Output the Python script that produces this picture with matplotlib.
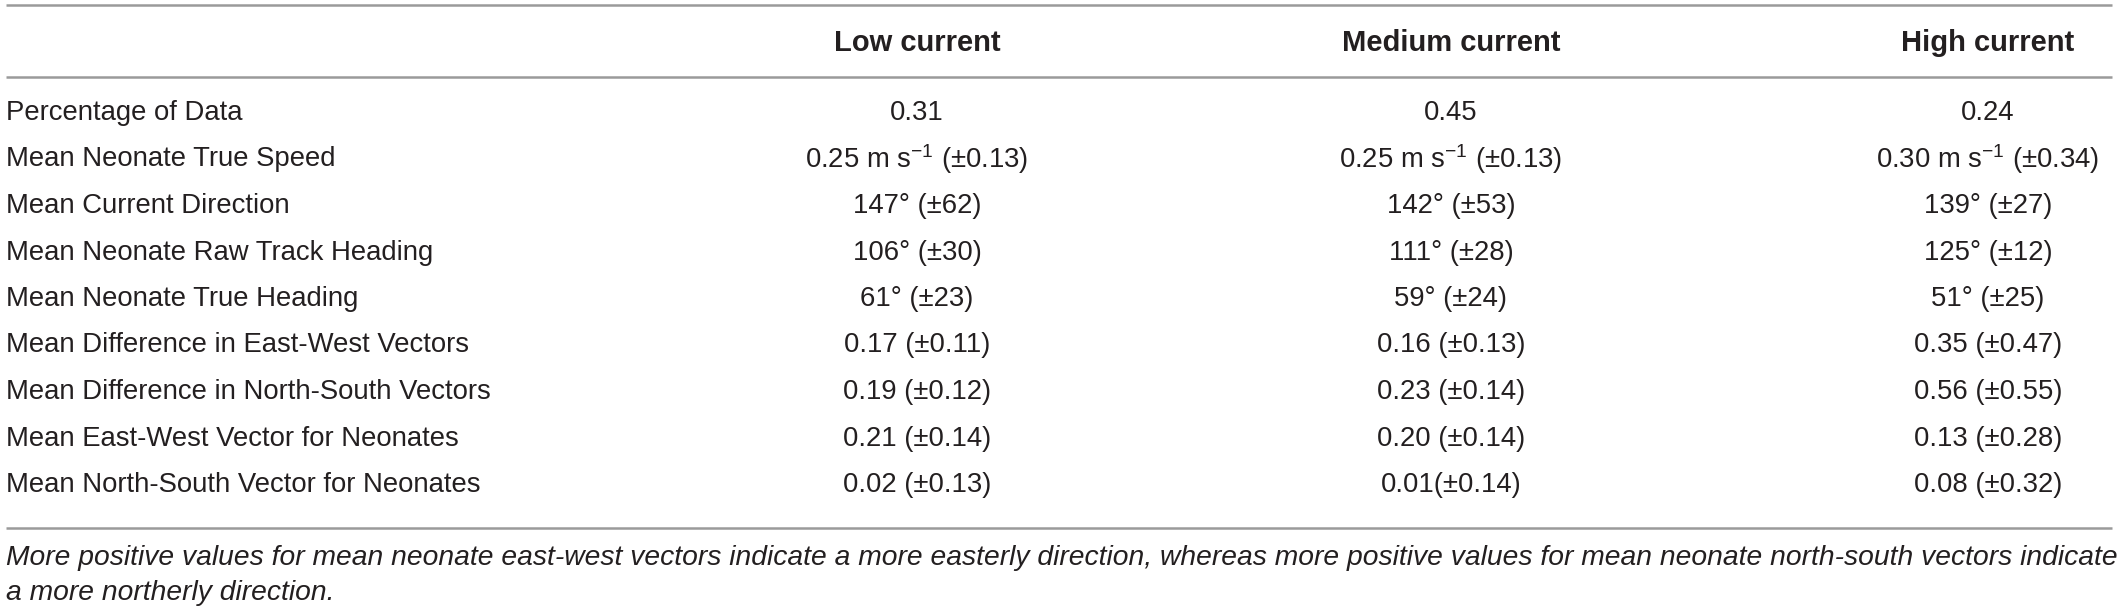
import matplotlib.pyplot as plt

# table content
columns = ['Low current', 'Medium current', 'High current']
row_labels = ['Percentage of Data',
              'Mean Neonate True Speed',
              'Mean Current Direction',
              'Mean Neonate Raw Track Heading',
              'Mean Neonate True Heading',
              'Mean Difference in East-West Vectors',
              'Mean Difference in North-South Vectors',
              'Mean East-West Vector for Neonates',
              'Mean North-South Vector for Neonates']
low_current = ['0.31', '0.25 m s$^{-1}$ (±0.13)', '147° (±62)', '106° (±30)', '61° (±23)',
               '0.17 (±0.11)', '0.19 (±0.12)', '0.21 (±0.14)', '0.02 (±0.13)']
medium_current = ['0.45', '0.25 m s$^{-1}$ (±0.13)', '142° (±53)', '111° (±28)', '59° (±24)',
                  '0.16 (±0.13)', '0.23 (±0.14)', '0.20 (±0.14)', '0.01(±0.14)']
high_current = ['0.24', '0.30 m s$^{-1}$ (±0.34)', '139° (±27)', '125° (±12)', '51° (±25)',
                '0.35 (±0.47)', '0.56 (±0.55)', '0.13 (±0.28)', '0.08 (±0.32)']
footnote = ['More positive values for mean neonate east-west vectors indicate a more easterly direction, '
            'whereas more positive values for mean neonate north-south vectors indicate',
            'a more northerly direction.']


def main():
    plt.rcParams['font.family'] = ['Liberation Sans', 'DejaVu Sans']
    plt.rcParams['mathtext.fontset'] = 'custom'
    plt.rcParams['mathtext.rm'] = 'Liberation Sans'
    plt.rcParams['mathtext.it'] = 'Liberation Sans:italic'
    plt.rcParams['mathtext.bf'] = 'Liberation Sans:bold'

    W, H = 2118, 612
    fig = plt.figure(figsize=(W / 100, H / 100), dpi=100)
    ax = fig.add_axes([0, 0, 1, 1])
    ax.set_xlim(0, W)
    ax.set_ylim(H, 0)
    ax.axis('off')

    text_color = '#231f20'
    rule_color = '#9a9a9a'
    col_x = [917, 1451, 1988]
    row_y0, row_step = 113, 46.5

    # rules
    for y in [5, 77, 528]:
        ax.plot([6, 2112], [y, y], color=rule_color, lw=1.8, solid_capstyle='butt')

    # header
    for x, name in zip(col_x, columns):
        ax.text(x, 43, name, ha='center', va='center', fontsize=21, fontweight='bold', color=text_color)

    # body
    body = [low_current, medium_current, high_current]
    for i, label in enumerate(row_labels):
        y = row_y0 + i * row_step
        ax.text(6, y, label, ha='left', va='center', fontsize=19.8, color=text_color)
        for x, col in zip(col_x, body):
            ax.text(x, y, col[i], ha='center', va='center', fontsize=19.8, color=text_color)

    # footnote, first line stretched to the table width
    fn1 = ax.text(6, 558, footnote[0], ha='left', va='center', fontsize=19.8,
                  style='italic', color=text_color)
    fig.canvas.draw()
    bb = fn1.get_window_extent()
    fn1.set_fontsize(19.8 * (2110 - 6) / bb.width)
    ax.text(6, 593, footnote[1], ha='left', va='center', fontsize=fn1.get_fontsize(),
            style='italic', color=text_color)

    plt.savefig('out.png', dpi=100)


if __name__ == '__main__':
    main()
